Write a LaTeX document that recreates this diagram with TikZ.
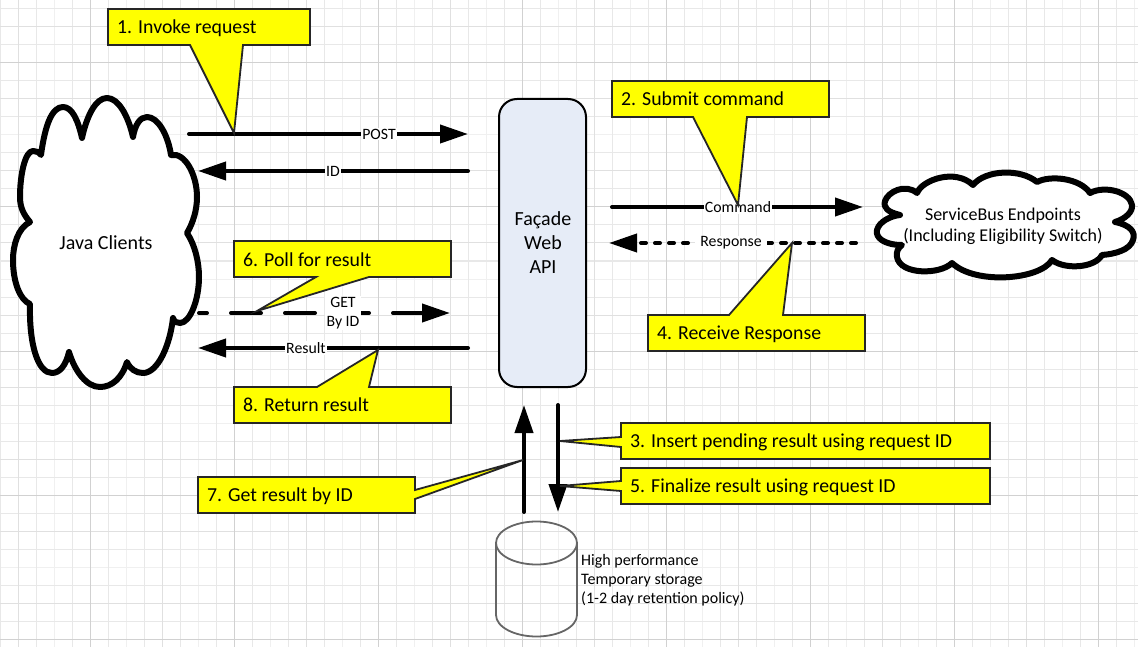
\documentclass[tikz,border=0pt]{standalone}
\usepackage{fontspec}
\setmainfont{Carlito}
\usetikzlibrary{arrows.meta}
\newcommand{\fs}[1]{\fontsize{#1}{#1}\selectfont}
\definecolor{cyel}{RGB}{255,255,0}
\definecolor{cfac}{RGB}{230,236,247}
\tikzset{
  gridl/.style={line width=1pt,color=#1},
  conn/.style={line width=4pt,line cap=round,-{Triangle[length=28pt,width=18pt]}},
  flowlabel/.style={fill=white,inner sep=1pt,font=\fs{15.8}},
  callout/.style={draw=black!85,line width=1.8pt,fill=cyel,line join=miter},
  callouttext/.style={anchor=base west,inner sep=0pt,font=\fs{19.8}},
  cloudline/.style={draw=black,fill=white,line width=6pt,line join=round},
  plain/.style={inner sep=0pt,align=center},
}
\begin{document}
\begin{tikzpicture}[x=1pt,y=-1pt]
\useasboundingbox (0,0) rectangle (1138,647);
\fill[white] (0,0) rectangle (1138,647);
% grid
\foreach \k in {0,...,63}{\draw[gridl=black!6] (18*\k,0) -- (18*\k,647);}
\foreach \k in {0,...,35}{\draw[gridl=black!6] (0,9+18*\k) -- (1138,9+18*\k);}
\foreach \k in {0,2,...,62}{\draw[gridl=black!9] (18*\k,0) -- (18*\k,647);}
\foreach \k in {0,2,...,34}{\draw[gridl=black!9] (0,9+18*\k) -- (1138,9+18*\k);}
\foreach \k in {1,5,...,61}{\draw[gridl=black!12] (18*\k,0) -- (18*\k,647);}
\foreach \k in {1,5,...,33}{\draw[gridl=black!12] (0,9+18*\k) -- (1138,9+18*\k);}
\foreach \k in {5,13,...,61}{\draw[gridl=black!18] (18*\k,0) -- (18*\k,647);}
\foreach \k in {3,11,...,35}{\draw[gridl=black!18] (0,9+18*\k) -- (1138,9+18*\k);}
% endpoints
\coordinate (postS) at (189,134);   \coordinate (postE) at (468,134);
\coordinate (idS) at (468,171);     \coordinate (idE) at (198,171);
\coordinate (cmdS) at (612,207);    \coordinate (cmdE) at (863,207);
\coordinate (respS) at (856,243);   \coordinate (respE) at (609,243);
\coordinate (getS) at (199,313);    \coordinate (getE) at (450,313);
\coordinate (resS) at (468,348);    \coordinate (resE) at (198,348);
\coordinate (upS) at (524,512);     \coordinate (upE) at (524,405);
\coordinate (downS) at (558,405);   \coordinate (downE) at (558,512);
% connectors
\draw[conn] (postS) -- (postE);
\draw[conn] (idS) -- (idE);
\draw[conn] (cmdS) -- (cmdE);
\draw[conn,dash pattern=on 5pt off 9pt] (respS) -- (respE);
\draw[conn,dash pattern=on 30pt off 24pt,dash phase=22pt] (getS) -- (getE);
\draw[conn] (resS) -- (resE);
\draw[conn] (upS) -- (upE);
\draw[conn] (downS) -- (downE);
% labels on connectors
\node[flowlabel] (lpost) at (379,134) {POST};
\node[flowlabel] (lid) at (333,171) {ID};
\node[flowlabel] (lcmd) at (738,207) {Command};
\node[flowlabel,inner xsep=5pt] (lresp) at (731,243) {Response};
\node[flowlabel,align=center,inner xsep=2pt] (lget) at (343,313) {GET\\[3pt]By ID};
\node[flowlabel] (lres) at (306,348) {Result};
% façade
\node[draw=black,line width=2pt,fill=cfac,rounded corners=18pt,minimum width=87pt,minimum height=288pt,inner sep=0pt] (facade) at (542.5,243) {};
\node[plain,font=\fs{20}] (facadet) at (543,243) {Façade\\[4pt]Web\\[4pt]API};
% Java cloud
\draw[cloudline] (41,155)
 .. controls (45,125) and (52,107) .. (63,107) .. controls (72,107) and (78,120) .. (82,138)
 .. controls (87,115) and (96,98) .. (107,98) .. controls (118,98) and (128,115) .. (133,137)
 .. controls (135,125) and (140,117) .. (147,117) .. controls (158,117) and (168,135) .. (171,155)
 .. controls (185,152) and (197,175) .. (197,197) .. controls (197,210) and (193,223) .. (187,233)
 .. controls (195,245) and (199,262) .. (199,277) .. controls (199,300) and (190,323) .. (180,323)
 .. controls (177,323) and (174,322) .. (173,318)
 .. controls (170,345) and (158,373) .. (143,373) .. controls (136,373) and (130,369) .. (127,362)
 .. controls (122,378) and (112,387) .. (100,387) .. controls (87,387) and (75,372) .. (69,352)
 .. controls (66,365) and (60,373) .. (52,373) .. controls (38,373) and (29,345) .. (30,304)
 .. controls (20,300) and (13,282) .. (13,260) .. controls (13,245) and (18,228) .. (30,222)
 .. controls (24,215) and (20,208) .. (20,197) .. controls (20,175) and (25,151) .. (33,151)
 .. controls (36,151) and (39,152) .. (41,155) -- cycle;
\node[plain,font=\fs{20}] (java) at (106,243) {Java Clients};
% ServiceBus cloud
\draw[cloudline] (900,215)
 .. controls (888,212) and (883,208) .. (885,201) .. controls (888,192) and (905,183) .. (917,193)
 .. controls (922,180) and (955,168) .. (973,185)
 .. controls (985,170) and (1020,168) .. (1037,182)
 .. controls (1050,175) and (1080,178) .. (1090,193)
 .. controls (1105,185) and (1130,192) .. (1132,205) .. controls (1133,212) and (1125,219) .. (1115,222)
 .. controls (1130,225) and (1136,232) .. (1133,240) .. controls (1130,250) and (1115,254) .. (1102,255)
 .. controls (1095,268) and (1065,270) .. (1052,260)
 .. controls (1040,280) and (975,285) .. (952,263)
 .. controls (940,275) and (900,275) .. (897,257) .. controls (896,252) and (898,248) .. (902,245)
 .. controls (885,245) and (875,238) .. (877,230) .. controls (879,222) and (890,216) .. (900,215) -- cycle;
\node[plain,font=\fs{18}] (bus) at (1003,226) {ServiceBus Endpoints\\[3pt](Including Eligibility Switch)};
% cylinder
\draw[draw=black!60,line width=1.8pt] (496,543) arc[start angle=180,end angle=360,x radius=40.5pt,y radius=21.5pt] arc[start angle=0,end angle=180,x radius=40.5pt,y radius=21.5pt] -- (496,615) arc[start angle=180,end angle=360,x radius=40.5pt,y radius=21.5pt] -- (577,543);
\node[anchor=north west,inner sep=0pt,font=\fs{16},align=left] (store) at (581,554) {High performance\\[3pt]Temporary storage\\[3pt](1-2 day retention policy)};
% callouts
\draw[callout] (108,9) -- (310,9) -- (310,45) -- (243,45) -- (234,133) -- (190,45) -- (108,45) -- cycle;
\node[callouttext] (c1) at (117,34) {1. Invoke request};
\draw[callout] (612,81) -- (829,81) -- (829,117) -- (747,117) -- (738,205) -- (693,117) -- (612,117) -- cycle;
\node[callouttext] (c2) at (621,106) {2. Submit command};
\draw[callout] (648,315) -- (729,315) -- (792,243) -- (783,315) -- (865,315) -- (865,351) -- (648,351) -- cycle;
\node[callouttext] (c4) at (657,339) {4. Receive Response};
\draw[callout] (234,241) -- (451,241) -- (451,277) -- (369,277) -- (257,311) -- (316,277) -- (234,277) -- cycle;
\node[callouttext] (c6) at (243,266) {6. Poll for result};
\draw[callout] (234,387) -- (317,387) -- (378,350) -- (369,387) -- (451,387) -- (451,423) -- (234,423) -- cycle;
\node[callouttext] (c8) at (243,411) {8. Return result};
\draw[callout] (198,477) -- (415,477) -- (415,490) -- (523,460) -- (415,499) -- (415,513) -- (198,513) -- cycle;
\node[callouttext] (c7) at (207,501) {7. Get result by ID};
\draw[callout] (621,423) -- (990,423) -- (990,459) -- (621,459) -- (621,447) -- (560,441) -- (621,437) -- cycle;
\node[callouttext] (c3) at (630,447) {3. Insert pending result using request ID};
\draw[callout] (621,468) -- (990,468) -- (990,504) -- (621,504) -- (621,491) -- (560,486) -- (621,481) -- cycle;
\node[callouttext] (c5) at (630,492) {5. Finalize result using request ID};
\end{tikzpicture}
\end{document}
